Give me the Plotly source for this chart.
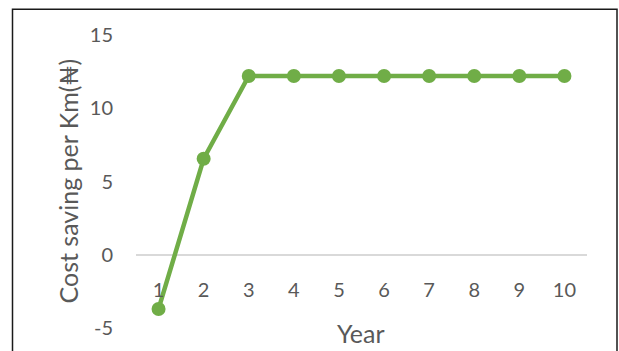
import plotly.graph_objects as go

years = ["1", "2", "3", "4", "5", "6", "7", "8", "9", "10"]
savings = [-3.7, 6.55, 12.2, 12.2, 12.2, 12.2, 12.2, 12.2, 12.2, 12.2]
y_ticks = [-5, 0, 5, 10, 15]
y_tick_labels = ["-5", "0", "5", "10", "15"]
x_title = "Year"
y_title = "Cost saving per Km(₦)"

FONT = "Lato, Open Sans, DejaVu Sans, sans-serif"
GRAY = "#595959"

fig = go.Figure()
fig.add_trace(go.Scatter(
    x=years, y=savings, mode="lines+markers",
    line=dict(color="#70AD47", width=4.5),
    marker=dict(color="#70AD47", size=14),
    cliponaxis=False, showlegend=False,
))

W, H = 619, 351
L, R, T, B = 136, 32, 35, 20
pw, ph = W - L - R, H - T - B

fig.update_layout(
    width=W, height=H,
    margin=dict(l=L, r=R, t=T, b=B),
    paper_bgcolor="white", plot_bgcolor="white",
    font=dict(family=FONT, color=GRAY, size=20),
    xaxis=dict(
        type="category", anchor="free", position=0.25,
        showgrid=False, zeroline=False, showline=False,
        ticks="", ticklabelstandoff=21,
        tickfont=dict(size=20, color=GRAY, family=FONT),
        range=[-0.5, 9.5],
    ),
    yaxis=dict(
        range=[-5, 15], tickvals=y_ticks, ticktext=y_tick_labels,
        showgrid=False,
        zeroline=True, zerolinecolor="#D9D9D9", zerolinewidth=1.5,
        showline=False, ticks="", ticklabelstandoff=22,
        tickfont=dict(size=20, color=GRAY, family=FONT),
    ),
)

def px_x(x):
    return (x - L) / pw

def px_y(y):
    return (H - B - y) / ph

fig.add_annotation(text=x_title, xref="paper", yref="paper",
                   x=px_x(361), y=px_y(336), showarrow=False,
                   xanchor="center", yanchor="middle",
                   font=dict(size=25, color=GRAY, family=FONT))
fig.add_annotation(text=y_title, xref="paper", yref="paper",
                   x=px_x(67), y=px_y(183), showarrow=False, textangle=-90,
                   xanchor="center", yanchor="middle",
                   font=dict(size=25, color=GRAY, family=FONT))

fig.add_shape(type="rect", xref="paper", yref="paper",
              x0=px_x(12.5), x1=px_x(617), y0=px_y(9), y1=px_y(380),
              line=dict(color="#1a1a1a", width=1.5), layer="above")

fig.write_html("out.html")
